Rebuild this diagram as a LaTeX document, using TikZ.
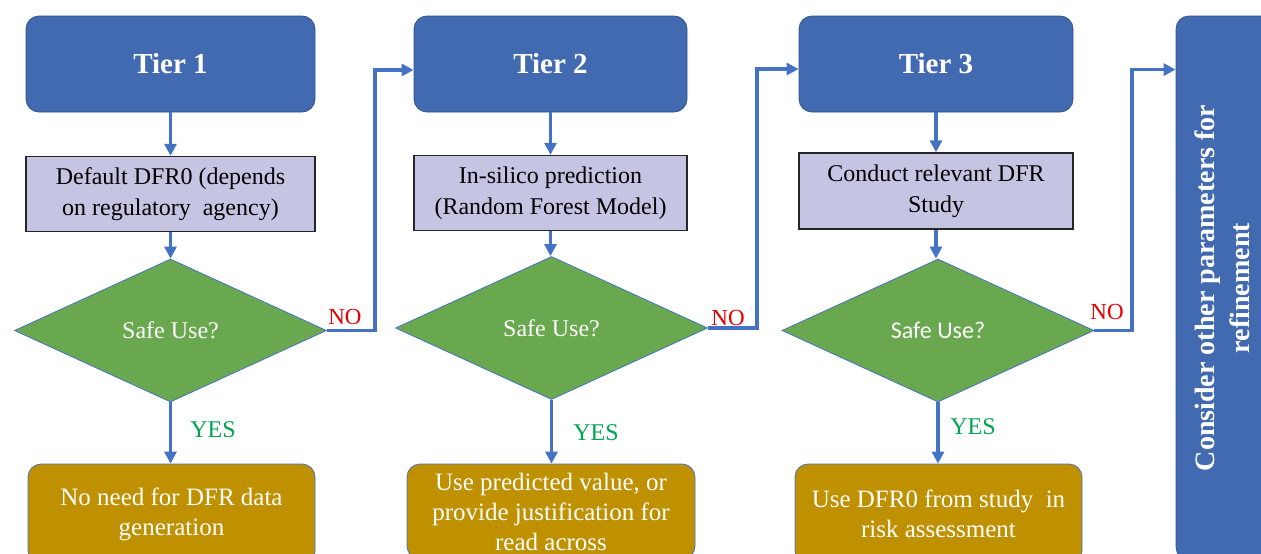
\documentclass[tikz,border=0pt]{standalone}
\usepackage{fontspec}
\setmainfont{Liberation Serif}
\newfontfamily\calibrifont{Carlito}
\usepackage{tikz}
\usetikzlibrary{arrows.meta,calc,shapes.geometric}

\definecolor{tierblue}{RGB}{66,106,176}
\definecolor{tieredge}{RGB}{47,82,143}
\definecolor{lavender}{RGB}{197,196,227}
\definecolor{safegreen}{RGB}{106,168,79}
\definecolor{resultgold}{RGB}{191,144,0}
\definecolor{flowblue}{RGB}{68,114,196}
\definecolor{yesgreen}{RGB}{0,166,80}
\definecolor{nored}{RGB}{230,0,0}

\begin{document}
\begin{tikzpicture}[x=1pt,y=-1pt,
  tier/.style={draw=tieredge,line width=0.8pt,fill=tierblue,rounded corners=13pt,
    minimum height=96pt,inner sep=0pt,text=white,font=\fontsize{29}{34}\selectfont\bfseries},
  task/.style={draw=black!85,line width=1.4pt,fill=lavender,minimum height=75pt,
    inner sep=0pt,align=center,font=\fontsize{24}{31}\selectfont},
  check/.style={diamond,draw=flowblue,line width=0.8pt,fill=safegreen,minimum width=312pt,
    minimum height=143pt,inner sep=0pt,text=white,font=\fontsize{24}{28}\selectfont},
  outcome/.style={draw=flowblue,line width=0.8pt,fill=resultgold,rounded corners=13pt,
    minimum height=100pt,inner sep=0pt,align=center,text=white,font=\fontsize{25}{30}\selectfont},
  flow/.style={draw=flowblue,line width=3.4pt,-{Triangle[length=12pt,width=12pt]}},
  yeslabel/.style={text=yesgreen,font=\fontsize{24}{28}\selectfont},
  nolabel/.style={text=nored,font=\fontsize{23}{28}\selectfont}]
  % Three tiers of the DFR assessment, each falling through to the next on NO.

  \path[use as bounding box,fill=white] (0,0) rectangle (1261,554);
  \clip (0,0) rectangle (1261,554);

  \coordinate (jog1) at (375,0);
  \coordinate (jog2) at (757,0);
  \coordinate (jog3) at (1132,0);

  \node[tier,minimum width=289pt] (tier1) at (170.5,64) {Tier 1};
  \node[tier,minimum width=273pt] (tier2) at (550.5,64) {Tier 2};
  \node[tier,minimum width=274pt] (tier3) at (936,64)   {Tier 3};

  \node[task,minimum width=289pt] (dflt)    at (170.5,194) {Default DFR0 (depends\\on regulatory~ agency)};
  \node[task,minimum width=273pt] (insilico) at (550.5,193)  {In-silico prediction\\(Random Forest Model)};
  \node[task,minimum width=274pt,minimum height=76pt] (conduct) at (936,191) {Conduct relevant DFR\\Study};

  \node[check] (safe1) at (170.5,330.5) {Safe Use?};
  \node[check] (safe2) at (551.5,328)   {Safe Use?};
  \node[check] (safe3) at (938,330.5)   {\calibrifont Safe Use?};

  \node[outcome,minimum width=287pt] (noneed) at (171.5,514) {No need for DFR data\\generation};
  \node[outcome,minimum width=288pt,minimum height=95pt] (useval) at (551,511.5)
    {Use predicted value, or\\provide justification for\\read across};
  \node[outcome,minimum width=287pt] (usedfr) at (938.5,514) {Use DFR0 from study~ in\\risk assessment};

  \node[tier,minimum width=98pt,minimum height=544pt,font=\fontsize{28}{35}\selectfont\bfseries]
    (refine) at (1225,288)
    {\rotatebox{90}{\begin{tabular}{@{}c@{}}Consider other parameters for\\refinement\end{tabular}}};

  \draw[flow] (tier1) -- (dflt);
  \draw[flow] (tier2) -- (insilico);
  \draw[flow] (tier3) -- (conduct);

  \draw[flow] (dflt.south)     -- (dflt.south |- safe1.north);
  \draw[flow] (insilico.south) -- (insilico.south |- safe2.north);
  \draw[flow] (conduct.south)  -- (conduct.south |- safe3.north);

  \draw[flow] (safe1.south) -- (safe1.south |- noneed.north);
  \draw[flow] (safe2.south) -- (safe2.south |- useval.north);
  \draw[flow] (safe3.south) -- (safe3.south |- usedfr.north);

  \draw[flow] (safe1.east) -- (safe1.east -| jog1) |- ([yshift=-6pt]tier2.west);
  \draw[flow] (safe2.east) -- (safe2.east -| jog2) |- ([yshift=-5pt]tier3.west);
  \draw[flow] (safe3.east) -- (safe3.east -| jog3) |- ([yshift=-54pt]refine.north west);

  \node[yeslabel] (yes1) at (213,430) {YES};
  \node[yeslabel] (yes2) at (596,433) {YES};
  \node[yeslabel] (yes3) at (973,427) {YES};

  \node[nolabel] (no1) at (345,317)  {NO};
  \node[nolabel] (no2) at (728,318)  {NO};
  \node[nolabel] (no3) at (1107,312) {NO};
\end{tikzpicture}
\end{document}
